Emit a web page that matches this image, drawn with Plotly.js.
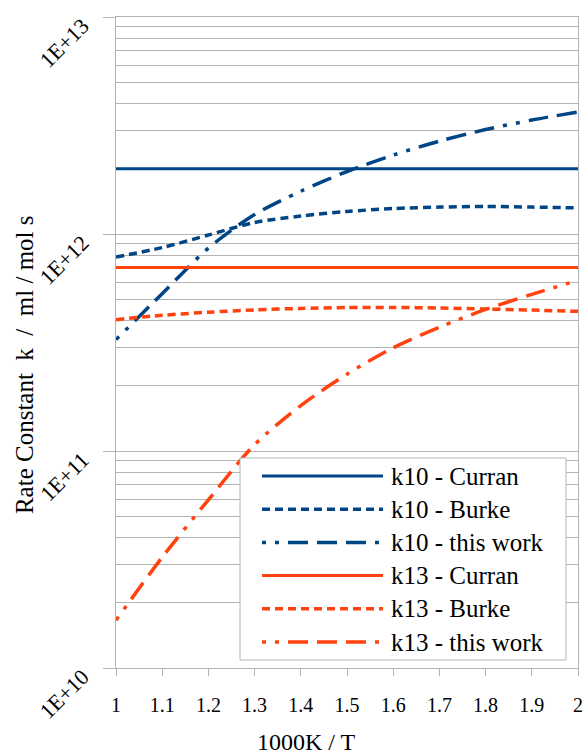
<!DOCTYPE html>
<html>
<head>
<meta charset="utf-8">
<script src="https://cdn.plot.ly/plotly-3.0.1.min.js"></script>
<style>
html,body{margin:0;padding:0;background:#ffffff;}
#chart{width:584px;height:754px;}
</style>
</head>
<body>
<div id="chart"></div>
<script>
// ---- data ----
const xValues      = [1.0, 1.1, 1.2, 1.3, 1.4, 1.5, 1.6, 1.7, 1.8, 1.9, 2.0];
const k10Curran    = [2.0e12, 2.0e12, 2.0e12, 2.0e12, 2.0e12, 2.0e12, 2.0e12, 2.0e12, 2.0e12, 2.0e12, 2.0e12];
const k10Burke     = [7.83e11, 8.66e11, 9.89e11, 1.13e12, 1.21e12, 1.27e12, 1.31e12, 1.33e12, 1.34e12, 1.33e12, 1.32e12];
const k10ThisWork  = [3.26e11, 5.31e11, 8.61e11, 1.23e12, 1.574e12, 1.94e12, 2.31e12, 2.68e12, 3.03e12, 3.35e12, 3.65e12];
const k13Curran    = [7.0e11, 7.0e11, 7.0e11, 7.0e11, 7.0e11, 7.0e11, 7.0e11, 7.0e11, 7.0e11, 7.0e11, 7.0e11];
const k13Burke     = [4.03e11, 4.22e11, 4.36e11, 4.47e11, 4.54e11, 4.58e11, 4.59e11, 4.56e11, 4.51e11, 4.46e11, 4.40e11];
const k13ThisWork  = [1.66e10, 3.24e10, 5.96e10, 1.07e11, 1.62e11, 2.26e11, 2.99e11, 3.72e11, 4.49e11, 5.27e11, 6.12e11];

const seriesNames  = ['k10 - Curran', 'k10 - Burke', 'k10 - this work', 'k13 - Curran', 'k13 - Burke', 'k13 - this work'];

const xTickValues  = [1.0, 1.1, 1.2, 1.3, 1.4, 1.5, 1.6, 1.7, 1.8, 1.9, 2.0];
const xTickLabels  = ['1', '1.1', '1.2', '1.3', '1.4', '1.5', '1.6', '1.7', '1.8', '1.9', '2'];
const yTickValues  = [1e10, 1e11, 1e12, 1e13];
const yTickLabels  = ['1E+10', '1E+11', '1E+12', '1E+13'];
const xTitleText   = '1000K / T';
const yTitleText   = 'Rate Constant\u00a0\u00a0k\u00a0\u00a0/\u00a0\u00a0ml / mol s';

// ---- styles ----
const BLUE = '#004586';
const ORANGE = '#ff420e';
const GRID = '#b3b3b3';
const FONT = 'Liberation Serif, Times New Roman, serif';
const DOT_DASH = '8px,5px';
const THIS_DASH = '4px,9px,4px,9px,20px,9px,20px,9px,20px,9px';

const seriesData = [k10Curran, k10Burke, k10ThisWork, k13Curran, k13Burke, k13ThisWork];
const seriesStyle = [
  {color: BLUE,   dash: 'solid',   width: 3},
  {color: BLUE,   dash: DOT_DASH,  width: 3.5},
  {color: BLUE,   dash: THIS_DASH, width: 3.5},
  {color: ORANGE, dash: 'solid',   width: 3},
  {color: ORANGE, dash: DOT_DASH,  width: 3.5},
  {color: ORANGE, dash: THIS_DASH, width: 3.5}
];

const traces = seriesData.map((ys, i) => ({
  type: 'scatter',
  mode: 'lines',
  name: seriesNames[i],
  x: xValues,
  y: ys,
  line: {color: seriesStyle[i].color, dash: seriesStyle[i].dash, width: seriesStyle[i].width, shape: 'spline', smoothing: 0.8},
  showlegend: false,
  hoverinfo: 'x+y+name'
}));

// minor log gridlines (2..9 in each decade)
const minorVals = [];
for (let d = 10; d < 13; d++) {
  for (let m = 2; m <= 9; m++) minorVals.push(m * Math.pow(10, d));
}

// ---- hand-drawn legend (long line samples, as in the reference) ----
const legendBox = {x0: 0.2684, x1: 0.974, y0: 0.0123, y1: 0.3226};
const legendRowTop = 0.2949, legendRowStep = 0.0510;
const sampleX0 = 0.316, sampleX1 = 0.578, legendTextX = 0.591;

const shapes = [{
  type: 'rect', xref: 'paper', yref: 'paper',
  x0: legendBox.x0, x1: legendBox.x1, y0: legendBox.y0, y1: legendBox.y1,
  line: {color: GRID, width: 1}, fillcolor: '#ffffff', layer: 'above'
}];
const annotations = [];
seriesNames.forEach((name, i) => {
  const yy = legendRowTop - i * legendRowStep;
  shapes.push({
    type: 'line', xref: 'paper', yref: 'paper',
    x0: sampleX0, x1: sampleX1, y0: yy, y1: yy,
    line: {color: seriesStyle[i].color, width: seriesStyle[i].width, dash: seriesStyle[i].dash},
    layer: 'above'
  });
  annotations.push({
    xref: 'paper', yref: 'paper', x: legendTextX, y: yy,
    xanchor: 'left', yanchor: 'middle', showarrow: false,
    text: name, font: {family: FONT, size: 25, color: '#000000'}
  });
});

// axis titles placed as in the reference
annotations.push({
  xref: 'paper', yref: 'paper', x: 0.4134, y: -0.1137,
  xanchor: 'center', yanchor: 'middle', showarrow: false,
  text: xTitleText, font: {family: FONT, size: 24, color: '#000000'}
});
annotations.push({
  xref: 'paper', yref: 'paper', x: -0.199, y: 0.4654,
  xanchor: 'center', yanchor: 'middle', showarrow: false, textangle: -90,
  text: yTitleText, font: {family: FONT, size: 25, color: '#000000'}
});

const layout = {
  width: 584,
  height: 754,
  margin: {l: 116, r: 6, t: 17, b: 86, pad: 0},
  paper_bgcolor: '#ffffff',
  plot_bgcolor: '#ffffff',
  font: {family: FONT, size: 20, color: '#000000'},
  showlegend: false,
  xaxis: {
    type: 'linear',
    range: [1, 2],
    tickmode: 'array',
    tickvals: xTickValues,
    ticktext: xTickLabels,
    ticks: 'outside',
    ticklen: 7,
    tickwidth: 1,
    tickcolor: GRID,
    ticklabelstandoff: 12,
    showgrid: false,
    zeroline: false,
    showline: true,
    linecolor: GRID,
    linewidth: 1,
    mirror: true,
    tickfont: {family: FONT, size: 20, color: '#000000'}
  },
  yaxis: {
    type: 'log',
    range: [10, 13],
    tickmode: 'array',
    tickvals: yTickValues,
    ticktext: yTickLabels,
    tickangle: -45,
    ticks: 'outside',
    ticklen: 12,
    tickwidth: 1,
    tickcolor: GRID,
    ticklabelstandoff: 16,
    ticklabelshift: 6,
    ticklabeloverflow: 'allow',
    showgrid: true,
    gridcolor: GRID,
    gridwidth: 1,
    minor: {tickmode: 'array', tickvals: minorVals, showgrid: true, gridcolor: GRID, gridwidth: 1, ticks: ''},
    zeroline: false,
    showline: true,
    linecolor: GRID,
    linewidth: 1,
    mirror: true,
    tickfont: {family: FONT, size: 22, color: '#000000'}
  },
  shapes: shapes,
  annotations: annotations
};

Plotly.newPlot('chart', traces, layout, {staticPlot: true, displayModeBar: false});
</script>
</body>
</html>
